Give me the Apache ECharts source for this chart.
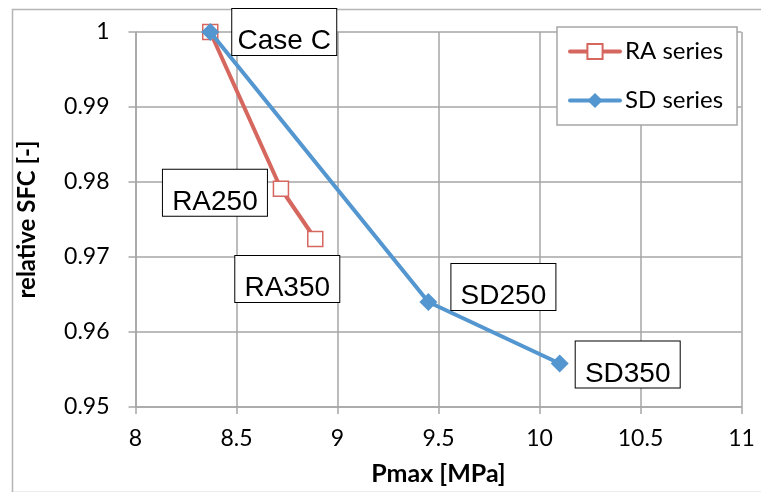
<!DOCTYPE html>
<html>
<head>
<meta charset="utf-8">
<script src="https://cdn.jsdelivr.net/npm/echarts@6/dist/echarts.min.js"></script>
<style>
  html, body { margin: 0; padding: 0; background: #fff; }
  #chart { width: 761px; height: 492px; }
</style>
</head>
<body>
<div id="chart"></div>
<script>
// Peak pressure vs. relative specific fuel consumption
const raPmax = [8.37, 8.72, 8.89];
const raSfc = [1.0, 0.9791, 0.9724];
const raNames = ['', 'RA250', 'RA350'];

const sdPmax = [8.37, 9.45, 10.10];
const sdSfc = [1.0, 0.9640, 0.9558];
const sdNames = ['Case C', 'SD250', 'SD350'];

const xTicks = { min: 8, max: 11, step: 0.5 };
const yTicks = { min: 0.95, max: 1.0, step: 0.01 };

// where each point's tag box sits relative to the point (px)
const raTagOffsets = [null, [-66, 4], [-28, 40]];
const sdTagOffsets = [[74, 0], [75, -15], [68, 1]];

const gridColor = '#a6a6a6';
const raColor = '#d5675f';
const sdColor = '#5496cf';

// tag boxes: an empty spacer line on top, the name on the line below
const tagStyle = {
  show: true,
  position: 'inside',
  color: '#000',
  backgroundColor: '#fff',
  borderColor: '#000',
  borderWidth: 1,
  width: 90,
  align: 'center',
  padding: [1, 7, 1, 7],
  rich: {
    s: { fontSize: 2, lineHeight: 19 },
    t: {
      fontFamily: 'Liberation Sans',
      fontSize: 28,
      lineHeight: 25,
      color: '#000'
    }
  }
};

function buildPoints(xs, ys, names, offsets) {
  return xs.map((x, i) => {
    const p = { value: [x, ys[i]] };
    if (names[i]) {
      p.label = Object.assign({}, tagStyle, {
        formatter: '{s| }\n{t|' + names[i] + '}',
        offset: offsets[i]
      });
    }
    return p;
  });
}

const chart = echarts.init(document.getElementById('chart'));
chart.setOption({
  animation: false,
  backgroundColor: '#fff',
  textStyle: { fontFamily: 'Lato' },
  graphic: [{
    type: 'rect',
    left: 10, top: 7,
    shape: { width: 760, height: 483 },
    style: { fill: 'none', stroke: '#b4b4b4', lineWidth: 1.5 },
    silent: true,
    z: -10
  }],
  grid: { left: 135.5, right: 19.5, top: 32, bottom: 85 },
  legend: {
    left: 557, top: 27,
    orient: 'vertical',
    backgroundColor: '#fff',
    borderColor: gridColor,
    borderWidth: 1.5,
    padding: [12, 14, 12, 11],
    itemGap: 24,
    itemWidth: 50,
    itemHeight: 19,
    textStyle: { fontFamily: 'Lato', fontSize: 24, color: '#000', lineHeight: 25 },
    data: [
      { name: 'RA series', lineStyle: { width: 4, cap: 'round' } },
      { name: 'SD series', lineStyle: { width: 4, cap: 'round' } }
    ]
  },
  xAxis: {
    type: 'value',
    min: xTicks.min, max: xTicks.max, interval: xTicks.step,
    name: 'Pmax [MPa]',
    nameLocation: 'middle',
    nameGap: 54,
    nameTextStyle: { fontFamily: 'Lato', fontSize: 25, fontWeight: 'bold', color: '#000' },
    axisLine: { lineStyle: { color: gridColor, width: 1.5 } },
    axisTick: { show: true, inside: false, length: 7, lineStyle: { color: gridColor, width: 1.5 } },
    axisLabel: { fontFamily: 'Lato', fontSize: 23, color: '#000', margin: 20 },
    splitLine: { show: true, lineStyle: { color: gridColor, width: 1.5 } }
  },
  yAxis: {
    type: 'value',
    min: yTicks.min, max: yTicks.max, interval: yTicks.step,
    name: 'relative SFC [-]',
    nameLocation: 'middle',
    nameGap: 96,
    nameTextStyle: { fontFamily: 'Lato', fontSize: 24, fontWeight: 'bold', color: '#000' },
    axisLine: { show: true, lineStyle: { color: gridColor, width: 1.5 } },
    axisTick: { show: true, inside: false, length: 7, lineStyle: { color: gridColor, width: 1.5 } },
    axisLabel: { fontFamily: 'Lato', fontSize: 23, color: '#000', margin: 26,
      formatter: v => String(Math.round(v * 100) / 100) },
    splitLine: { show: true, lineStyle: { color: gridColor, width: 1.5 } }
  },
  series: [
    {
      name: 'RA series',
      type: 'line',
      data: buildPoints(raPmax, raSfc, raNames, raTagOffsets),
      symbol: 'rect',
      symbolSize: 15,
      showAllSymbol: true,
      lineStyle: { color: raColor, width: 4 },
      itemStyle: { color: '#fff', borderColor: raColor, borderWidth: 1.5 },
      z: 2
    },
    {
      name: 'SD series',
      type: 'line',
      data: buildPoints(sdPmax, sdSfc, sdNames, sdTagOffsets),
      symbol: 'diamond',
      symbolSize: 18,
      showAllSymbol: true,
      lineStyle: { color: sdColor, width: 4 },
      itemStyle: { color: sdColor, borderColor: sdColor, borderWidth: 0 },
      z: 3
    }
  ]
});
</script>
</body>
</html>
